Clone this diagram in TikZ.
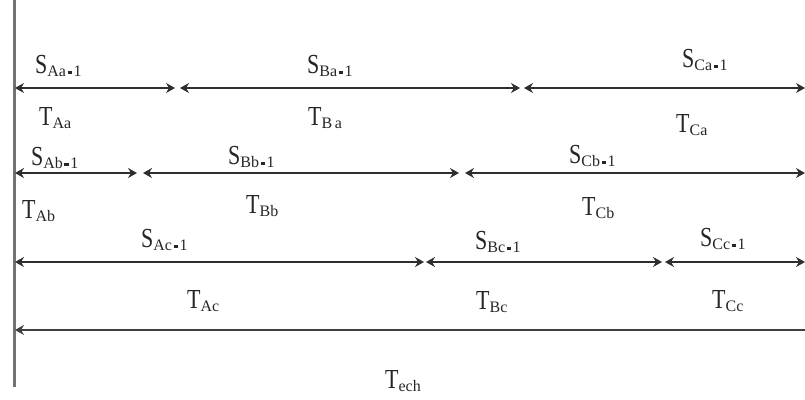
\documentclass[tikz,border=0pt]{standalone}
\usepackage{graphicx}
\usepackage{fontspec}
\setmainfont{Liberation Serif}
\usetikzlibrary{arrows.meta}
% a tall capital with a lowered subscript
\newcommand{\lbl}[2]{\scalebox{1}[1.25]{\fontsize{22}{22}\selectfont #1}\raisebox{-3.5pt}{\fontsize{16}{16}\selectfont #2}}
% the "-1" that follows the slot subscripts
\newcommand{\mone}{\kern1.5pt\rule[2.5pt]{4.5pt}{2.7pt}\kern1.5pt 1}
\begin{document}
\begin{tikzpicture}[x=1pt,y=-1pt,
  span/.style={line width=2pt,draw=black!82,{Stealth[length=9pt,width=10pt,inset=3pt]}-{Stealth[length=9pt,width=10pt,inset=3pt]}},
  tag/.style={inner sep=0pt,anchor=base west,text=black!85}]
\useasboundingbox (0,0) rectangle (805,399);
\clip (0,0) rectangle (805,399);
% time origin
\coordinate (top) at (14.5,0);
\coordinate (bot) at (14.5,387);
\draw[line width=2.2pt,black!55] (top) -- (bot);
% row a
\coordinate (a0) at (15,88);
\coordinate (a1) at (175,88);
\coordinate (a2) at (180,88);
\coordinate (a3) at (520,88);
\coordinate (a4) at (524,88);
\coordinate (a5) at (805,88);
\draw[span] (a0) -- (a1);
\draw[span] (a2) -- (a3);
\draw[span] (a4) -- (a5);
% row b
\coordinate (b0) at (15,173);
\coordinate (b1) at (137,173);
\coordinate (b2) at (143,173);
\coordinate (b3) at (459,173);
\coordinate (b4) at (465,173);
\coordinate (b5) at (805,173);
\draw[span] (b0) -- (b1);
\draw[span] (b2) -- (b3);
\draw[span] (b4) -- (b5);
% row c
\coordinate (c0) at (15,262);
\coordinate (c1) at (424,262);
\coordinate (c2) at (426,262);
\coordinate (c3) at (662,262);
\coordinate (c4) at (665,262);
\coordinate (c5) at (805,262);
\draw[span] (c0) -- (c1);
\draw[span] (c2) -- (c3);
\draw[span] (c4) -- (c5);
% whole exchange
\coordinate (e0) at (15,330);
\coordinate (e1) at (814,330);
\draw[span,draw=black!75,line width=2.2pt] (e0) -- (e1);
% labels
\node[tag] (sAa) at (35,73) {\lbl{S}{Aa\mone}};
\node[tag] (tAa) at (39,125) {\lbl{T}{Aa}};
\node[tag] (sBa) at (307,73) {\lbl{S}{Ba\mone}};
\node[tag] (tBa) at (308,125) {\lbl{T}{B\,a}};
\node[tag] (sCa) at (682,67) {\lbl{S}{Ca\mone}};
\node[tag] (tCa) at (676,132) {\lbl{T}{Ca}};
\node[tag] (sAb) at (31,165) {\lbl{S}{Ab\mone}};
\node[tag] (tAb) at (22,218) {\lbl{T}{Ab}};
\node[tag] (sBb) at (228,164) {\lbl{S}{Bb\mone}};
\node[tag] (tBb) at (246,213) {\lbl{T}{Bb}};
\node[tag] (sCb) at (569,163) {\lbl{S}{Cb\mone}};
\node[tag] (tCb) at (582,215) {\lbl{T}{Cb}};
\node[tag] (sAc) at (141,247) {\lbl{S}{Ac\mone}};
\node[tag] (tAc) at (187,308) {\lbl{T}{Ac}};
\node[tag] (sBc) at (475,249) {\lbl{S}{Bc\mone}};
\node[tag] (tBc) at (476,309) {\lbl{T}{Bc}};
\node[tag] (sCc) at (700,246) {\lbl{S}{Cc\mone}};
\node[tag] (tCc) at (712,308) {\lbl{T}{Cc}};
\node[tag] (tech) at (385,388) {\lbl{T}{ech}};
\end{tikzpicture}
\end{document}
